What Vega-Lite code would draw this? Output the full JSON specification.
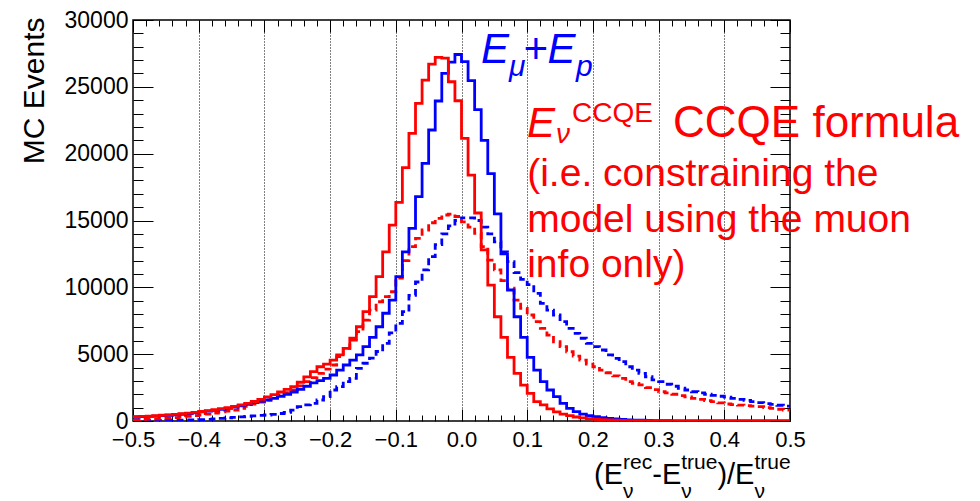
{
  "$schema": "https://vega.github.io/schema/vega-lite/v6.json",
  "width": 657,
  "height": 401,
  "autosize": {"type": "none"},
  "padding": {"left": 133, "top": 20, "right": 190, "bottom": 80},
  "background": "white",
  "config": {
    "font": "Liberation Sans",
    "view": {"stroke": "#000000", "strokeWidth": 1.5},
    "axis": {"labelFont": "Liberation Sans", "titleFont": "Liberation Sans", "labelColor": "#000000", "titleColor": "#000000", "tickColor": "#000000", "tickWidth": 1, "labelOverlap": false, "labelBound": false, "labelFlush": false},
    "text": {"font": "Liberation Sans"}
  },
  "datasets": {
    "hist": [
      {"x": -0.50, "ccqe": 320, "emuep": 300, "ccqe_b": 100, "emuep_b": 30},
      {"x": -0.49, "ccqe": 345, "emuep": 320, "ccqe_b": 120, "emuep_b": 35},
      {"x": -0.48, "ccqe": 370, "emuep": 345, "ccqe_b": 140, "emuep_b": 40},
      {"x": -0.47, "ccqe": 400, "emuep": 370, "ccqe_b": 160, "emuep_b": 45},
      {"x": -0.46, "ccqe": 430, "emuep": 400, "ccqe_b": 190, "emuep_b": 50},
      {"x": -0.45, "ccqe": 465, "emuep": 430, "ccqe_b": 220, "emuep_b": 55},
      {"x": -0.44, "ccqe": 500, "emuep": 465, "ccqe_b": 260, "emuep_b": 60},
      {"x": -0.43, "ccqe": 545, "emuep": 505, "ccqe_b": 300, "emuep_b": 70},
      {"x": -0.42, "ccqe": 590, "emuep": 550, "ccqe_b": 350, "emuep_b": 80},
      {"x": -0.41, "ccqe": 650, "emuep": 610, "ccqe_b": 400, "emuep_b": 90},
      {"x": -0.40, "ccqe": 710, "emuep": 680, "ccqe_b": 450, "emuep_b": 100},
      {"x": -0.39, "ccqe": 770, "emuep": 740, "ccqe_b": 520, "emuep_b": 120},
      {"x": -0.38, "ccqe": 840, "emuep": 800, "ccqe_b": 600, "emuep_b": 150},
      {"x": -0.37, "ccqe": 920, "emuep": 870, "ccqe_b": 680, "emuep_b": 190},
      {"x": -0.36, "ccqe": 1000, "emuep": 950, "ccqe_b": 750, "emuep_b": 230},
      {"x": -0.35, "ccqe": 1100, "emuep": 1040, "ccqe_b": 820, "emuep_b": 270},
      {"x": -0.34, "ccqe": 1200, "emuep": 1140, "ccqe_b": 950, "emuep_b": 310},
      {"x": -0.33, "ccqe": 1320, "emuep": 1250, "ccqe_b": 1100, "emuep_b": 350},
      {"x": -0.32, "ccqe": 1460, "emuep": 1370, "ccqe_b": 1270, "emuep_b": 390},
      {"x": -0.31, "ccqe": 1620, "emuep": 1470, "ccqe_b": 1420, "emuep_b": 420},
      {"x": -0.30, "ccqe": 1800, "emuep": 1570, "ccqe_b": 1570, "emuep_b": 450},
      {"x": -0.29, "ccqe": 1980, "emuep": 1700, "ccqe_b": 1760, "emuep_b": 500},
      {"x": -0.28, "ccqe": 2170, "emuep": 1850, "ccqe_b": 1950, "emuep_b": 560},
      {"x": -0.27, "ccqe": 2370, "emuep": 2000, "ccqe_b": 2130, "emuep_b": 640},
      {"x": -0.26, "ccqe": 2570, "emuep": 2170, "ccqe_b": 2320, "emuep_b": 820},
      {"x": -0.25, "ccqe": 2900, "emuep": 2370, "ccqe_b": 2630, "emuep_b": 1070},
      {"x": -0.24, "ccqe": 3300, "emuep": 2600, "ccqe_b": 2940, "emuep_b": 1200},
      {"x": -0.23, "ccqe": 3700, "emuep": 2850, "ccqe_b": 3250, "emuep_b": 1320},
      {"x": -0.22, "ccqe": 4060, "emuep": 3020, "ccqe_b": 3570, "emuep_b": 1570},
      {"x": -0.21, "ccqe": 4250, "emuep": 3190, "ccqe_b": 3880, "emuep_b": 1820},
      {"x": -0.20, "ccqe": 4560, "emuep": 3440, "ccqe_b": 4190, "emuep_b": 2320},
      {"x": -0.19, "ccqe": 4940, "emuep": 3810, "ccqe_b": 4810, "emuep_b": 2570},
      {"x": -0.18, "ccqe": 5440, "emuep": 4190, "ccqe_b": 5440, "emuep_b": 2940},
      {"x": -0.17, "ccqe": 6190, "emuep": 4560, "ccqe_b": 6060, "emuep_b": 3190},
      {"x": -0.16, "ccqe": 7050, "emuep": 4940, "ccqe_b": 6680, "emuep_b": 3940},
      {"x": -0.15, "ccqe": 8180, "emuep": 5560, "ccqe_b": 7550, "emuep_b": 4320},
      {"x": -0.14, "ccqe": 9300, "emuep": 6260, "ccqe_b": 8300, "emuep_b": 4700},
      {"x": -0.13, "ccqe": 10800, "emuep": 7050, "ccqe_b": 8920, "emuep_b": 5200},
      {"x": -0.12, "ccqe": 12660, "emuep": 8060, "ccqe_b": 9300, "emuep_b": 5800},
      {"x": -0.11, "ccqe": 14660, "emuep": 9050, "ccqe_b": 9670, "emuep_b": 6600},
      {"x": -0.10, "ccqe": 16360, "emuep": 10800, "ccqe_b": 10700, "emuep_b": 7300},
      {"x": -0.09, "ccqe": 18950, "emuep": 12660, "ccqe_b": 12000, "emuep_b": 8180},
      {"x": -0.08, "ccqe": 21520, "emuep": 14410, "ccqe_b": 13040, "emuep_b": 9400},
      {"x": -0.07, "ccqe": 23760, "emuep": 16780, "ccqe_b": 13660, "emuep_b": 10400},
      {"x": -0.06, "ccqe": 25500, "emuep": 19280, "ccqe_b": 14290, "emuep_b": 11300},
      {"x": -0.05, "ccqe": 26700, "emuep": 21770, "ccqe_b": 14830, "emuep_b": 12300},
      {"x": -0.04, "ccqe": 27200, "emuep": 23940, "ccqe_b": 15160, "emuep_b": 13200},
      {"x": -0.03, "ccqe": 27150, "emuep": 26000, "ccqe_b": 15410, "emuep_b": 14000},
      {"x": -0.02, "ccqe": 25380, "emuep": 26850, "ccqe_b": 15480, "emuep_b": 14600},
      {"x": -0.01, "ccqe": 23960, "emuep": 27420, "ccqe_b": 15300, "emuep_b": 15000},
      {"x": 0.00, "ccqe": 21150, "emuep": 26880, "ccqe_b": 14900, "emuep_b": 15200},
      {"x": 0.01, "ccqe": 18400, "emuep": 25460, "ccqe_b": 14500, "emuep_b": 15200},
      {"x": 0.02, "ccqe": 15560, "emuep": 23300, "ccqe_b": 14040, "emuep_b": 15000},
      {"x": 0.03, "ccqe": 12800, "emuep": 21000, "ccqe_b": 13040, "emuep_b": 14500},
      {"x": 0.04, "ccqe": 10170, "emuep": 18500, "ccqe_b": 12040, "emuep_b": 14000},
      {"x": 0.05, "ccqe": 7800, "emuep": 15500, "ccqe_b": 11300, "emuep_b": 13400},
      {"x": 0.06, "ccqe": 6260, "emuep": 12500, "ccqe_b": 10500, "emuep_b": 12660},
      {"x": 0.07, "ccqe": 4760, "emuep": 9800, "ccqe_b": 9930, "emuep_b": 11920},
      {"x": 0.08, "ccqe": 3570, "emuep": 7800, "ccqe_b": 9050, "emuep_b": 11100},
      {"x": 0.09, "ccqe": 2690, "emuep": 6260, "ccqe_b": 8430, "emuep_b": 10600},
      {"x": 0.10, "ccqe": 2070, "emuep": 4760, "ccqe_b": 7930, "emuep_b": 10200},
      {"x": 0.11, "ccqe": 1450, "emuep": 3810, "ccqe_b": 7430, "emuep_b": 9550},
      {"x": 0.12, "ccqe": 1200, "emuep": 2940, "ccqe_b": 6930, "emuep_b": 8800},
      {"x": 0.13, "ccqe": 900, "emuep": 2320, "ccqe_b": 6430, "emuep_b": 8300},
      {"x": 0.14, "ccqe": 680, "emuep": 1820, "ccqe_b": 5930, "emuep_b": 7930},
      {"x": 0.15, "ccqe": 520, "emuep": 1320, "ccqe_b": 5560, "emuep_b": 7430},
      {"x": 0.16, "ccqe": 400, "emuep": 950, "ccqe_b": 5180, "emuep_b": 6930},
      {"x": 0.17, "ccqe": 300, "emuep": 700, "ccqe_b": 4860, "emuep_b": 6560},
      {"x": 0.18, "ccqe": 230, "emuep": 520, "ccqe_b": 4560, "emuep_b": 6190},
      {"x": 0.19, "ccqe": 170, "emuep": 400, "ccqe_b": 4260, "emuep_b": 5810},
      {"x": 0.20, "ccqe": 130, "emuep": 330, "ccqe_b": 4060, "emuep_b": 5560},
      {"x": 0.21, "ccqe": 100, "emuep": 260, "ccqe_b": 3810, "emuep_b": 5310},
      {"x": 0.22, "ccqe": 80, "emuep": 200, "ccqe_b": 3610, "emuep_b": 4940},
      {"x": 0.23, "ccqe": 60, "emuep": 160, "ccqe_b": 3370, "emuep_b": 4690},
      {"x": 0.24, "ccqe": 45, "emuep": 120, "ccqe_b": 3190, "emuep_b": 4440},
      {"x": 0.25, "ccqe": 35, "emuep": 90, "ccqe_b": 2940, "emuep_b": 4060},
      {"x": 0.26, "ccqe": 30, "emuep": 70, "ccqe_b": 2820, "emuep_b": 3810},
      {"x": 0.27, "ccqe": 25, "emuep": 55, "ccqe_b": 2700, "emuep_b": 3570},
      {"x": 0.28, "ccqe": 20, "emuep": 40, "ccqe_b": 2500, "emuep_b": 3310},
      {"x": 0.29, "ccqe": 15, "emuep": 30, "ccqe_b": 2350, "emuep_b": 3070},
      {"x": 0.30, "ccqe": 12, "emuep": 25, "ccqe_b": 2190, "emuep_b": 2940},
      {"x": 0.31, "ccqe": 10, "emuep": 20, "ccqe_b": 2100, "emuep_b": 2750},
      {"x": 0.32, "ccqe": 8, "emuep": 16, "ccqe_b": 2000, "emuep_b": 2600},
      {"x": 0.33, "ccqe": 6, "emuep": 13, "ccqe_b": 1900, "emuep_b": 2450},
      {"x": 0.34, "ccqe": 5, "emuep": 10, "ccqe_b": 1800, "emuep_b": 2320},
      {"x": 0.35, "ccqe": 4, "emuep": 8, "ccqe_b": 1700, "emuep_b": 2190},
      {"x": 0.36, "ccqe": 3, "emuep": 6, "ccqe_b": 1620, "emuep_b": 2100},
      {"x": 0.37, "ccqe": 2, "emuep": 5, "ccqe_b": 1530, "emuep_b": 2000},
      {"x": 0.38, "ccqe": 2, "emuep": 4, "ccqe_b": 1450, "emuep_b": 1920},
      {"x": 0.39, "ccqe": 1, "emuep": 3, "ccqe_b": 1360, "emuep_b": 1850},
      {"x": 0.40, "ccqe": 1, "emuep": 2, "ccqe_b": 1270, "emuep_b": 1780},
      {"x": 0.41, "ccqe": 1, "emuep": 2, "ccqe_b": 1230, "emuep_b": 1700},
      {"x": 0.42, "ccqe": 1, "emuep": 1, "ccqe_b": 1190, "emuep_b": 1620},
      {"x": 0.43, "ccqe": 0, "emuep": 1, "ccqe_b": 1150, "emuep_b": 1540},
      {"x": 0.44, "ccqe": 0, "emuep": 1, "ccqe_b": 1110, "emuep_b": 1450},
      {"x": 0.45, "ccqe": 0, "emuep": 1, "ccqe_b": 1070, "emuep_b": 1370},
      {"x": 0.46, "ccqe": 0, "emuep": 0, "ccqe_b": 1000, "emuep_b": 1300},
      {"x": 0.47, "ccqe": 0, "emuep": 0, "ccqe_b": 940, "emuep_b": 1240},
      {"x": 0.48, "ccqe": 0, "emuep": 0, "ccqe_b": 880, "emuep_b": 1180},
      {"x": 0.49, "ccqe": 0, "emuep": 0, "ccqe_b": 820, "emuep_b": 1120},
      {"x": 0.50, "ccqe": 0, "emuep": 0, "ccqe_b": 820, "emuep_b": 1120}
    ]
  },
  "layer": [
    {
      "data": {"name": "hist"},
      "transform": [{"fold": ["emuep_b", "ccqe_b", "emuep", "ccqe"], "as": ["series", "events"]}],
      "mark": {"type": "line", "interpolate": "step-after", "strokeWidth": 2.8, "clip": true},
      "encoding": {
        "x": {
          "field": "x", "type": "quantitative",
          "scale": {"domain": [-0.5, 0.5], "nice": false, "zero": false},
          "axis": {
            "orient": "bottom",
            "values": [-0.5,-0.48,-0.46,-0.44,-0.42,-0.4,-0.38,-0.36,-0.34,-0.32,-0.3,-0.28,-0.26,-0.24,-0.22,-0.2,-0.18,-0.16,-0.14,-0.12,-0.1,-0.08,-0.06,-0.04,-0.02,0,0.02,0.04,0.06,0.08,0.1,0.12,0.14,0.16,0.18,0.2,0.22,0.24,0.26,0.28,0.3,0.32,0.34,0.36,0.38,0.4,0.42,0.44,0.46,0.48,0.5],
            "labelExpr": "abs(datum.value * 10 - round(datum.value * 10)) < 0.001 ? format(datum.value, '.1f') : ''",
            "labelFontSize": 22,
            "labelPadding": 20,
            "domain": false,
            "grid": true,
            "gridColor": "#000000",
            "gridDash": [1, 2],
            "gridWidth": 1,
            "gridOpacity": {"condition": {"test": "abs(datum.value * 10 - round(datum.value * 10)) < 0.001 && abs(datum.value) < 0.45", "value": 1}, "value": 0},
            "tickSize": {"condition": {"test": "abs(datum.value * 10 - round(datum.value * 10)) < 0.001", "value": -12}, "value": -6},
            "title": null
          }
        },
        "y": {
          "field": "events", "type": "quantitative",
          "scale": {"domain": [0, 30000], "nice": false, "zero": false},
          "axis": {
            "orient": "left",
            "values": [0,1000,2000,3000,4000,5000,6000,7000,8000,9000,10000,11000,12000,13000,14000,15000,16000,17000,18000,19000,20000,21000,22000,23000,24000,25000,26000,27000,28000,29000,30000],
            "labelExpr": "datum.value % 5000 == 0 ? format(datum.value, 'd') : ''",
            "labelFontSize": 23,
            "labelPadding": 25,
            "domain": false,
            "grid": false,
            "tickSize": {"condition": {"test": "datum.value % 5000 == 0", "value": -20}, "value": -10},
            "title": "MC Events",
            "titleFontSize": 30,
            "titleFontWeight": "normal",
            "titleAngle": 270,
            "titleAlign": "right",
            "titleBaseline": "alphabetic",
            "titleX": -90,
            "titleY": -3
          }
        },
        "color": {
          "field": "series", "type": "nominal",
          "scale": {"domain": ["emuep", "ccqe", "emuep_b", "ccqe_b"], "range": ["#0000ff", "#ff0000", "#0000ff", "#ff0000"]},
          "legend": null
        },
        "strokeDash": {
          "field": "series", "type": "nominal",
          "scale": {"domain": ["emuep", "ccqe", "emuep_b", "ccqe_b"], "range": [[1, 0], [1, 0], [7, 4], [7, 4]]},
          "legend": null
        }
      }
    },
    {
      "data": {"values": [{}]},
      "mark": {"type": "text", "text": "(i.e. constraining the", "align": "left", "baseline": "alphabetic", "fontSize": 39, "color": "#ff0000"},
      "encoding": {
        "x": {
          "datum": 0.1, "type": "quantitative",
          "scale": {"domain": [-0.5, 0.5], "nice": false, "zero": false},
          "axis": {
            "orient": "top",
            "values": [-0.5,-0.48,-0.46,-0.44,-0.42,-0.4,-0.38,-0.36,-0.34,-0.32,-0.3,-0.28,-0.26,-0.24,-0.22,-0.2,-0.18,-0.16,-0.14,-0.12,-0.1,-0.08,-0.06,-0.04,-0.02,0,0.02,0.04,0.06,0.08,0.1,0.12,0.14,0.16,0.18,0.2,0.22,0.24,0.26,0.28,0.3,0.32,0.34,0.36,0.38,0.4,0.42,0.44,0.46,0.48,0.5],
            "labels": false, "domain": false, "grid": false, "title": null,
            "tickSize": {"condition": {"test": "abs(datum.value * 10 - round(datum.value * 10)) < 0.001", "value": -12}, "value": -6}
          }
        },
        "y": {
          "datum": 17580, "type": "quantitative",
          "scale": {"domain": [0, 30000], "nice": false, "zero": false},
          "axis": {
            "orient": "right",
            "values": [0,1000,2000,3000,4000,5000,6000,7000,8000,9000,10000,11000,12000,13000,14000,15000,16000,17000,18000,19000,20000,21000,22000,23000,24000,25000,26000,27000,28000,29000,30000],
            "labels": false, "domain": false, "grid": false, "title": null,
            "tickSize": {"condition": {"test": "datum.value % 5000 == 0", "value": -20}, "value": -10}
          }
        }
      }
    },
    {
      "data": {"values": [{}]},
      "mark": {"type": "text", "text": "model using the muon", "align": "left", "baseline": "alphabetic", "fontSize": 39, "color": "#ff0000"},
      "encoding": {"x": {"datum": 0.1, "type": "quantitative", "axis": null}, "y": {"datum": 14176, "type": "quantitative", "axis": null}}
    },
    {
      "data": {"values": [{}]},
      "mark": {"type": "text", "text": "info only)", "align": "left", "baseline": "alphabetic", "fontSize": 39, "color": "#ff0000"},
      "encoding": {"x": {"datum": 0.1, "type": "quantitative", "axis": null}, "y": {"datum": 10773, "type": "quantitative", "axis": null}}
    },
    {
      "data": {"values": [{}]},
      "mark": {"type": "text", "text": "E", "align": "left", "baseline": "alphabetic", "fontSize": 42, "fontStyle": "italic", "color": "#ff0000"},
      "encoding": {"x": {"datum": 0.0997, "type": "quantitative", "axis": null}, "y": {"datum": 21246, "type": "quantitative", "axis": null}}
    },
    {
      "data": {"values": [{}]},
      "mark": {"type": "text", "text": "ν", "align": "left", "baseline": "alphabetic", "fontSize": 28, "fontStyle": "italic", "color": "#ff0000"},
      "encoding": {"x": {"datum": 0.1438, "type": "quantitative", "axis": null}, "y": {"datum": 20797, "type": "quantitative", "axis": null}}
    },
    {
      "data": {"values": [{}]},
      "mark": {"type": "text", "text": "CCQE", "align": "left", "baseline": "alphabetic", "fontSize": 28, "color": "#ff0000"},
      "encoding": {"x": {"datum": 0.1682, "type": "quantitative", "axis": null}, "y": {"datum": 22368, "type": "quantitative", "axis": null}}
    },
    {
      "data": {"values": [{}]},
      "mark": {"type": "text", "text": "CCQE formula", "align": "left", "baseline": "alphabetic", "fontSize": 44, "color": "#ff0000"},
      "encoding": {"x": {"datum": 0.322, "type": "quantitative", "axis": null}, "y": {"datum": 21246, "type": "quantitative", "axis": null}}
    },
    {
      "data": {"values": [{}]},
      "mark": {"type": "text", "text": "E", "align": "left", "baseline": "alphabetic", "fontSize": 42, "fontStyle": "italic", "color": "#0000ff"},
      "encoding": {"x": {"datum": 0.0297, "type": "quantitative", "axis": null}, "y": {"datum": 26782, "type": "quantitative", "axis": null}}
    },
    {
      "data": {"values": [{}]},
      "mark": {"type": "text", "text": "μ", "align": "left", "baseline": "alphabetic", "fontSize": 30, "fontStyle": "italic", "color": "#0000ff"},
      "encoding": {"x": {"datum": 0.0723, "type": "quantitative", "axis": null}, "y": {"datum": 25810, "type": "quantitative", "axis": null}}
    },
    {
      "data": {"values": [{}]},
      "mark": {"type": "text", "text": "+E", "align": "left", "baseline": "alphabetic", "fontSize": 42, "fontStyle": "italic", "color": "#0000ff"},
      "encoding": {"x": {"datum": 0.0936, "type": "quantitative", "axis": null}, "y": {"datum": 26782, "type": "quantitative", "axis": null}}
    },
    {
      "data": {"values": [{}]},
      "mark": {"type": "text", "text": "p", "align": "left", "baseline": "alphabetic", "fontSize": 30, "fontStyle": "italic", "color": "#0000ff"},
      "encoding": {"x": {"datum": 0.1743, "type": "quantitative", "axis": null}, "y": {"datum": 25810, "type": "quantitative", "axis": null}}
    },
    {
      "data": {"values": [{}]},
      "mark": {"type": "text", "text": "(E", "align": "left", "baseline": "alphabetic", "fontSize": 29, "color": "#000000"},
      "encoding": {"x": {"datum": 0.2017, "type": "quantitative", "axis": null}, "y": {"datum": -4712, "type": "quantitative", "axis": null}}
    },
    {
      "data": {"values": [{}]},
      "mark": {"type": "text", "text": "rec", "align": "left", "baseline": "alphabetic", "fontSize": 21, "color": "#000000"},
      "encoding": {"x": {"datum": 0.2458, "type": "quantitative", "axis": null}, "y": {"datum": -3590, "type": "quantitative", "axis": null}}
    },
    {
      "data": {"values": [{}]},
      "mark": {"type": "text", "text": "ν", "align": "left", "baseline": "alphabetic", "fontSize": 21, "color": "#000000"},
      "encoding": {"x": {"datum": 0.2458, "type": "quantitative", "axis": null}, "y": {"datum": -5760, "type": "quantitative", "axis": null}}
    },
    {
      "data": {"values": [{}]},
      "mark": {"type": "text", "text": "-E", "align": "left", "baseline": "alphabetic", "fontSize": 29, "color": "#000000"},
      "encoding": {"x": {"datum": 0.2903, "type": "quantitative", "axis": null}, "y": {"datum": -4712, "type": "quantitative", "axis": null}}
    },
    {
      "data": {"values": [{}]},
      "mark": {"type": "text", "text": "true", "align": "left", "baseline": "alphabetic", "fontSize": 21, "color": "#000000"},
      "encoding": {"x": {"datum": 0.3344, "type": "quantitative", "axis": null}, "y": {"datum": -3590, "type": "quantitative", "axis": null}}
    },
    {
      "data": {"values": [{}]},
      "mark": {"type": "text", "text": "ν", "align": "left", "baseline": "alphabetic", "fontSize": 21, "color": "#000000"},
      "encoding": {"x": {"datum": 0.3344, "type": "quantitative", "axis": null}, "y": {"datum": -5760, "type": "quantitative", "axis": null}}
    },
    {
      "data": {"values": [{}]},
      "mark": {"type": "text", "text": ")/E", "align": "left", "baseline": "alphabetic", "fontSize": 29, "color": "#000000"},
      "encoding": {"x": {"datum": 0.3895, "type": "quantitative", "axis": null}, "y": {"datum": -4712, "type": "quantitative", "axis": null}}
    },
    {
      "data": {"values": [{}]},
      "mark": {"type": "text", "text": "true", "align": "left", "baseline": "alphabetic", "fontSize": 21, "color": "#000000"},
      "encoding": {"x": {"datum": 0.4459, "type": "quantitative", "axis": null}, "y": {"datum": -3590, "type": "quantitative", "axis": null}}
    },
    {
      "data": {"values": [{}]},
      "mark": {"type": "text", "text": "ν", "align": "left", "baseline": "alphabetic", "fontSize": 21, "color": "#000000"},
      "encoding": {"x": {"datum": 0.4459, "type": "quantitative", "axis": null}, "y": {"datum": -5760, "type": "quantitative", "axis": null}}
    }
  ],
  "resolve": {"axis": {"x": "independent", "y": "independent"}}
}
